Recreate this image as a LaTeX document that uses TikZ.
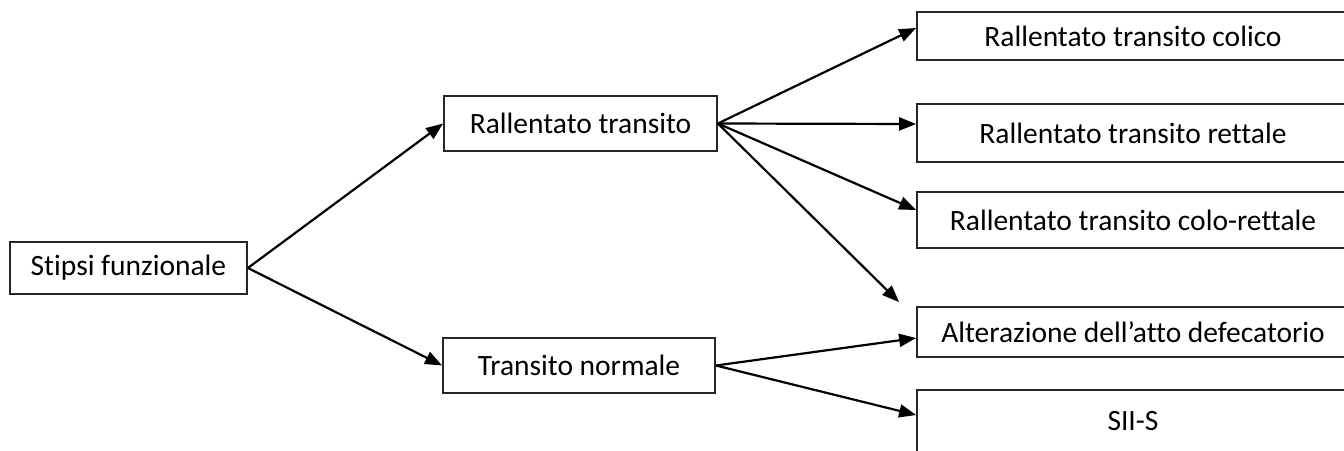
\documentclass[tikz,border=0pt]{standalone}
\usepackage{fontspec}
\setmainfont[Ligatures={NoCommon}]{Carlito}
\usetikzlibrary{arrows.meta}
\tikzset{
  box/.style={draw=black!85, line width=1.8pt, fill=white, inner sep=0pt, anchor=center,
    font=\fontsize{29.5}{34}\selectfont},
  conn/.style={line width=2.2pt, -{Triangle[length=17pt,width=13pt]}}
}
\begin{document}
\begin{tikzpicture}[x=1pt,y=-1pt]
\useasboundingbox (0,0) rectangle (1344,450);
\clip (0,0) rectangle (1344,450);
\node[box, minimum width=237pt, minimum height=52pt] (sf) at (128.5,268) {Stipsi funzionale};
\node[box, minimum width=273pt, minimum height=55pt] (rt) at (580.5,123.5) {Rallentato transito};
\node[box, minimum width=272pt, minimum height=55pt] (tn) at (579,365.5) {Transito normale};
\node[box, minimum width=432pt, minimum height=48pt] (col) at (1133,36) {Rallentato transito colico};
\node[box, minimum width=432pt, minimum height=58pt] (ret) at (1133,133) {Rallentato transito rettale};
\node[box, minimum width=432pt, minimum height=56pt] (cr) at (1133,220) {Rallentato transito colo-rettale};
\node[box, minimum width=432pt, minimum height=50pt] (alt) at (1133,332) {Alterazione dell’atto defecatorio};
\node[box, minimum width=432pt, minimum height=62pt] (sii) at (1133,421) {SII-S};
\draw[conn] (sf.east) -- (rt.west);
\draw[conn] (sf.east) -- (tn.west);
\draw[conn] (rt.east) -- ([yshift=8pt]col.west);
\draw[conn] (rt.east) -- ([yshift=9pt]ret.west);
\draw[conn] (rt.east) -- ([yshift=10pt]cr.west);
\draw[conn] (rt.east) -- ([shift={(-17pt,4pt)}]alt.north west);
\draw[conn] (tn.east) -- ([yshift=-6pt]alt.west);
\draw[conn] (tn.east) -- ([yshift=6pt]sii.west);
\end{tikzpicture}
\end{document}
